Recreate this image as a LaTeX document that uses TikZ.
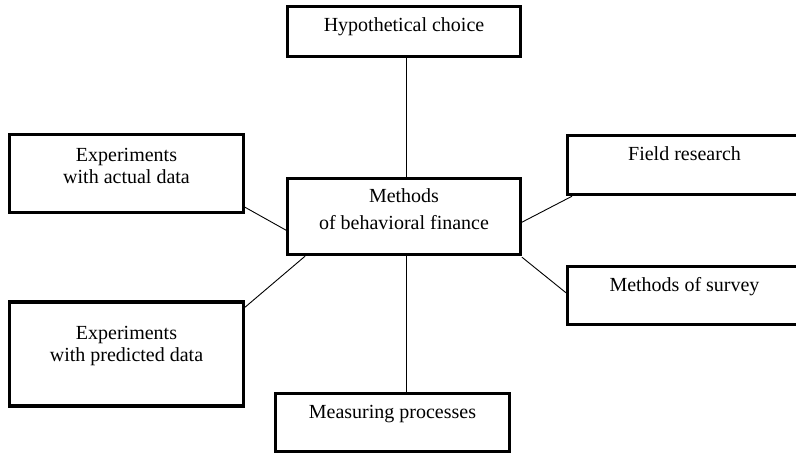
\documentclass[tikz,border=0pt]{standalone}
\usepackage{fontspec}
\setmainfont{Liberation Serif}
\usepackage{tikz}
\usetikzlibrary{calc, positioning}

\begin{document}
\begin{tikzpicture}
  [
    x = 1pt, y = -1pt,
    box/.style = {draw, line width = 3.4pt, minimum width = 233.5pt},
    txt/.style = {anchor = base, align = center, inner sep = 0pt,
                  font = \fontsize{20}{22}\selectfont},
    link/.style = {line width = 0.9pt}
  ]
  \useasboundingbox (0,0) rectangle (796,456);
  % boxes
  \node [box, minimum height = 50pt]  (hyp)    at (404,31.5)   {};
  \node [box, minimum height = 78pt]  (actual) at (126.5,173.5) {};
  \node [box, minimum width = 232.5pt, minimum height = 76pt] (ctr) at (404,216.5) {};
  \node [box, minimum height = 59pt]  (field)  at (684.5,165)  {};
  \node [box, minimum height = 58pt]  (survey) at (684.5,295.5) {};
  \node [box, minimum height = 104pt] (pred)   at (126.5,354)   {};
  \node [box, minimum height = 58pt]  (meas)   at (392.5,422.5) {};
  % texts (base = last line)
  \node [txt] (hyptxt)    at ([yshift=-26.5pt]hyp.north)    {Hypothetical choice};
  \node [txt] (actualtxt) at ([yshift=-50.5pt]actual.north) {Experiments\\with actual data};
  \node [txt, font = \fontsize{20}{27}\selectfont]
              (ctrtxt)    at ([yshift=-52.5pt]ctr.north)    {Methods\\of behavioral finance};
  \node [txt] (fieldtxt)  at ([yshift=-27pt]field.north)    {Field research};
  \node [txt] (surveytxt) at ([yshift=-26.5pt]survey.north) {Methods of survey};
  \node [txt, font = \fontsize{20}{21.5}\selectfont]
              (predtxt)   at ([yshift=-61pt]pred.north)     {Experiments\\with predicted data};
  \node [txt] (meastxt)   at ([yshift=-26.5pt]meas.north)   {Measuring processes};
  % connectors
  \draw [link] ([xshift=2pt]ctr.north) -- ([xshift=2pt]ctr.north |- hyp.south);
  \draw [link] ([xshift=2pt]ctr.south) -- ([xshift=2pt]ctr.south |- meas.north);
  \draw [link] ([yshift=7pt]actual.south east) -- ([yshift=26pt]ctr.south west);
  \draw [link] ([yshift=-7pt]pred.north east) -- ([xshift=19pt]ctr.south west);
  \draw [link] ([yshift=34pt]ctr.south east) -- ([xshift=6pt]field.south west);
  \draw [link] ([yshift=-1pt]ctr.south east) -- ([yshift=-28pt]survey.north west);
\end{tikzpicture}
\end{document}
